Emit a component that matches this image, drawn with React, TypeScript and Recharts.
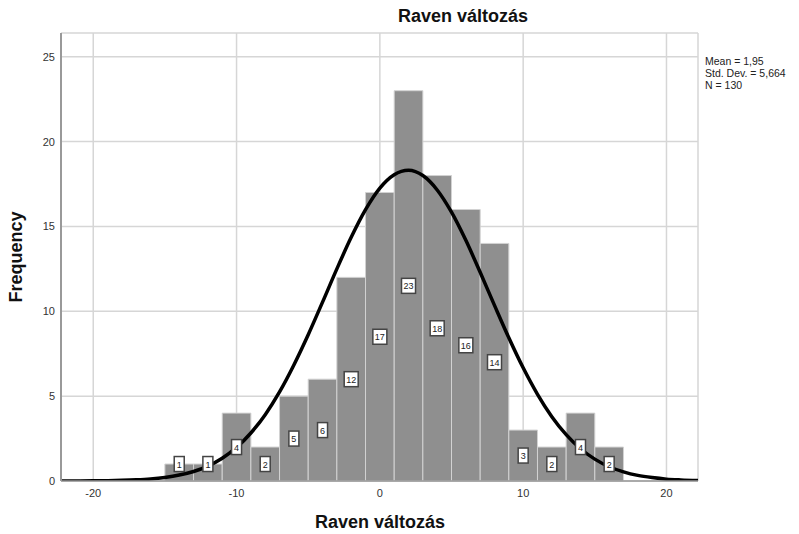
import {
  ComposedChart,
  Line,
  XAxis,
  YAxis,
  CartesianGrid,
  ReferenceArea,
  ReferenceDot,
} from 'recharts';

// histogram bins (left edge), width 2
const binStart = [-15, -13, -11, -9, -7, -5, -3, -1, 1, 3, 5, 7, 9, 11, 13, 15];
const binWidth = 2;
const counts = [1, 1, 4, 2, 5, 6, 12, 17, 23, 18, 16, 14, 3, 2, 4, 2];

// fitted normal curve
const curveX = [
  -22.2, -21, -20, -19, -18, -17, -16, -15, -14, -13, -12, -11, -10, -9, -8, -7, -6, -5, -4, -3, -2, -1, 0,
  1, 2, 3, 4, 5, 6, 7, 8, 9, 10, 11, 12, 13, 14, 15, 16, 17, 18, 19, 20, 21, 22.2,
];
const curveY = [
  0.002, 0.005, 0.01, 0.02, 0.037, 0.068, 0.12, 0.21, 0.35, 0.56, 0.88, 1.34, 1.98, 2.83, 3.91, 5.25, 6.84,
  8.62, 10.54, 12.5, 14.36, 15.99, 17.26, 18.05, 18.31, 18.0, 17.15, 15.84, 14.18, 12.3, 10.35, 8.44, 6.67,
  5.11, 3.79, 2.73, 1.9, 1.29, 0.84, 0.54, 0.33, 0.2, 0.11, 0.064, 0.03,
];

const xTicks = [-20, -10, 0, 10, 20];
const yTicks = [0, 5, 10, 15, 20, 25];

const stats = ['Mean = 1,95', 'Std. Dev. = 5,664', 'N = 130'];
const title = 'Raven változás';
const xTitle = 'Raven változás';
const yTitle = 'Frequency';

const FONT = "Arial, 'Liberation Sans', sans-serif";

const curveData = curveX.map((x, i) => ({ x, y: curveY[i] }));

function CountBox(props: any) {
  const { cx, cy, value } = props;
  if (cx == null || cy == null) return null;
  const txt = String(value);
  const w = txt.length > 1 ? 14 : 10;
  const h = 15;
  return (
    <g>
      <rect x={cx - w / 2} y={cy - h / 2} width={w} height={h} fill="#fff" stroke="#444" strokeWidth={1.5} />
      <text x={cx} y={cy + 3.5} textAnchor="middle" fontSize={9} fontFamily={FONT} fill="#222">
        {txt}
      </text>
    </g>
  );
}

export default function App() {
  return (
    <div style={{ position: 'absolute', left: 0, top: 0, width: 799, height: 534, background: '#fff', fontFamily: FONT }}>
      <ComposedChart
        width={799}
        height={534}
        data={curveData}
        margin={{ top: 33, right: 101, bottom: 33, left: 0 }}
      >
        <CartesianGrid stroke="#d6d6d6" strokeWidth={1.5} />
        <XAxis
          dataKey="x"
          type="number"
          domain={[-22.25, 22.2]}
          ticks={xTicks}
          allowDataOverflow
          height={20}
          tickLine={false}
          axisLine={{ stroke: '#999', strokeWidth: 1.5 }}
          tick={{ fontSize: 11, fill: '#333', fontFamily: FONT }}
        />
        <YAxis
          type="number"
          domain={[0, 26.4]}
          ticks={yTicks}
          allowDataOverflow
          width={61}
          tickLine={false}
          tickMargin={0}
          axisLine={{ stroke: '#999', strokeWidth: 2 }}
          tick={{ fontSize: 11, fill: '#333', fontFamily: FONT }}
        />
        {counts.map((c, i) => (
          <ReferenceArea
            key={'bar' + i}
            x1={binStart[i]}
            x2={binStart[i] + binWidth}
            y1={0}
            y2={c}
            fill="#8f8f8f"
            fillOpacity={1}
            stroke="#d2d2d2"
            strokeWidth={1}
            ifOverflow="visible"
          />
        ))}
        <Line
          type="monotone"
          dataKey="y"
          stroke="#000"
          strokeWidth={3.5}
          dot={false}
          isAnimationActive={false}
        />
        {counts.map((c, i) => (
          <ReferenceDot
            key={'lbl' + i}
            x={binStart[i] + binWidth / 2}
            y={Math.max(c / 2, 1)}
            r={0}
            ifOverflow="visible"
            shape={(p: any) => <CountBox {...p} value={c} />}
          />
        ))}
      </ComposedChart>
      <div
        style={{ position: 'absolute', left: 463, top: 6, transform: 'translateX(-50%)', fontSize: 18, fontWeight: 'bold', whiteSpace: 'nowrap', color: '#111' }}
      >
        {title}
      </div>
      <div
        style={{ position: 'absolute', left: 380, top: 512, transform: 'translateX(-50%)', fontSize: 18, fontWeight: 'bold', whiteSpace: 'nowrap', color: '#111' }}
      >
        {xTitle}
      </div>
      <div
        style={{ position: 'absolute', left: 16, top: 257, transform: 'translate(-50%, -50%) rotate(-90deg)', fontSize: 18, fontWeight: 'bold', whiteSpace: 'nowrap', color: '#111' }}
      >
        {yTitle}
      </div>
      <div style={{ position: 'absolute', left: 705, top: 55, fontSize: 10.5, lineHeight: '12px', color: '#222' }}>
        {stats.map((s) => (
          <div key={s}>{s}</div>
        ))}
      </div>
    </div>
  );
}
